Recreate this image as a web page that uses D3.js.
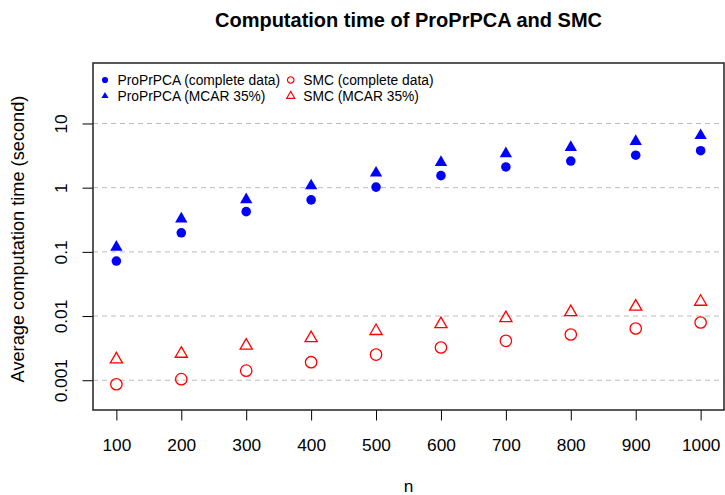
<!DOCTYPE html>
<html>
<head>
<meta charset="utf-8">
<script src="https://cdn.jsdelivr.net/npm/d3@7"></script>
<style>
  body { margin: 0; background: #fff; }
  svg text { font-family: "Liberation Sans", Arial, Helvetica, sans-serif; fill: #000; }
</style>
</head>
<body>
<div id="chart"></div>
<script>
// sample sizes on the x axis
const nValues = [100, 200, 300, 400, 500, 600, 700, 800, 900, 1000];

// average computation time in seconds
const proprpcaComplete = [0.072, 0.198, 0.423, 0.645, 1.02, 1.54, 2.1, 2.6, 3.2, 3.77];
const proprpcaMcar = [0.118, 0.325, 0.65, 1.07, 1.69, 2.48, 3.39, 4.25, 5.26, 6.49];
const smcComplete = [0.000866, 0.00104, 0.00141, 0.00191, 0.00251, 0.00324, 0.00411, 0.00516, 0.0064, 0.00794];
const smcMcar = [0.00211, 0.00259, 0.00346, 0.00452, 0.00585, 0.00747, 0.0093, 0.0115, 0.014, 0.0167];

const xTicks = [100, 200, 300, 400, 500, 600, 700, 800, 900, 1000];
const yTicks = [0.001, 0.01, 0.1, 1, 10];
const yTickLabels = ["0.001", "0.01", "0.1", "1", "10"];

const legendLabels = ["ProPrPCA (complete data)", "ProPrPCA (MCAR 35%)", "SMC (complete data)", "SMC (MCAR 35%)"];

const width = 725, height = 495;
const plot = { left: 93, right: 724, top: 63, bottom: 410 };

const svg = d3.select("#chart")
    .append("svg")
    .attr("width", width)
    .attr("height", height);

const x = d3.scaleLinear()
    .domain([64, 1036])
    .range([plot.left, plot.right]);

const y = d3.scaleLog()
    .domain([0.000344, 87.5])
    .range([plot.bottom, plot.top]);

// dashed horizontal grid at each decade
svg.append("g")
    .selectAll("line")
    .data(yTicks)
    .enter()
    .append("line")
    .attr("x1", plot.left)
    .attr("x2", plot.right)
    .attr("y1", d => y(d))
    .attr("y2", d => y(d))
    .attr("stroke", "#bdbdbd")
    .attr("stroke-width", 1)
    .attr("stroke-dasharray", "5,4");

// axes
const xAxis = svg.append("g")
    .attr("transform", "translate(0," + plot.bottom + ")")
    .call(d3.axisBottom(x).tickValues(xTicks).tickSize(10.5).tickPadding(0).tickFormat(d3.format("d")));

xAxis.select(".domain").remove();
xAxis.selectAll("line").attr("stroke", "#000").attr("stroke-width", 1);
xAxis.selectAll("text")
    .attr("y", 34.5)
    .attr("dy", "0.35em")
    .attr("font-size", "17.3px");

const yAxis = svg.append("g")
    .attr("transform", "translate(" + plot.left + ",0)")
    .call(d3.axisLeft(y).tickValues(yTicks).tickSize(10.5).tickFormat((d, i) => yTickLabels[i]));

yAxis.select(".domain").remove();
yAxis.selectAll("line").attr("stroke", "#000").attr("stroke-width", 1);
yAxis.selectAll("text")
    .attr("x", null)
    .attr("dy", null)
    .attr("text-anchor", "middle")
    .attr("dominant-baseline", "central")
    .attr("transform", "translate(-32,0) rotate(-90)")
    .attr("font-size", "17.3px");

// plot box
svg.append("rect")
    .attr("x", plot.left)
    .attr("y", plot.top)
    .attr("width", plot.right - plot.left)
    .attr("height", plot.bottom - plot.top)
    .attr("fill", "none")
    .attr("stroke", "#222")
    .attr("stroke-width", 1.5);

// points
const series = [
    { values: proprpcaComplete, type: d3.symbolCircle, size: 72, fill: "#0000ff", stroke: "none" },
    { values: proprpcaMcar, type: d3.symbolTriangle, size: 66, fill: "#0000ff", stroke: "none" },
    { values: smcComplete, type: d3.symbolCircle, size: 102, fill: "none", stroke: "#ff0000" },
    { values: smcMcar, type: d3.symbolTriangle, size: 64, fill: "none", stroke: "#ff0000" }
];

series.forEach(s => {
    svg.append("g")
        .selectAll("path")
        .data(s.values)
        .enter()
        .append("path")
        .attr("transform", (d, i) => "translate(" + x(nValues[i]) + "," + y(d) + ")")
        .attr("d", d3.symbol().type(s.type).size(s.size)())
        .attr("fill", s.fill)
        .attr("stroke", s.stroke)
        .attr("stroke-width", 1.3);
});

// legend, two columns without a box
const legendItems = [
    { label: legendLabels[0], type: d3.symbolCircle, size: 30, fill: "#0000ff", stroke: "none", col: 0, row: 0 },
    { label: legendLabels[1], type: d3.symbolTriangle, size: 22, fill: "#0000ff", stroke: "none", col: 0, row: 1 },
    { label: legendLabels[2], type: d3.symbolCircle, size: 33, fill: "none", stroke: "#ff0000", col: 1, row: 0 },
    { label: legendLabels[3], type: d3.symbolTriangle, size: 28, fill: "none", stroke: "#ff0000", col: 1, row: 1 }
];

const legend = svg.append("g")
    .attr("transform", "translate(105,80)");

const items = legend.selectAll("g")
    .data(legendItems)
    .enter()
    .append("g")
    .attr("transform", d => "translate(" + (d.col * 185.7) + "," + (d.row * 16) + ")");

items.append("path")
    .attr("d", d => d3.symbol().type(d.type).size(d.size)())
    .attr("fill", d => d.fill)
    .attr("stroke", d => d.stroke)
    .attr("stroke-width", 1.2);

items.append("text")
    .attr("x", 12.5)
    .attr("y", 0)
    .attr("dy", "0.35em")
    .attr("font-size", "13.8px")
    .text(d => d.label);

// titles
svg.append("text")
    .attr("x", (plot.left + plot.right) / 2)
    .attr("y", 27)
    .attr("text-anchor", "middle")
    .attr("font-size", "20px")
    .attr("font-weight", "bold")
    .text("Computation time of ProPrPCA and SMC");

svg.append("text")
    .attr("x", (plot.left + plot.right) / 2)
    .attr("y", 492)
    .attr("text-anchor", "middle")
    .attr("font-size", "17.3px")
    .text("n");

svg.append("text")
    .attr("transform", "translate(18,239) rotate(-90)")
    .attr("text-anchor", "middle")
    .attr("dominant-baseline", "central")
    .attr("font-size", "18.2px")
    .text("Average computation time (second)");
</script>
</body>
</html>
